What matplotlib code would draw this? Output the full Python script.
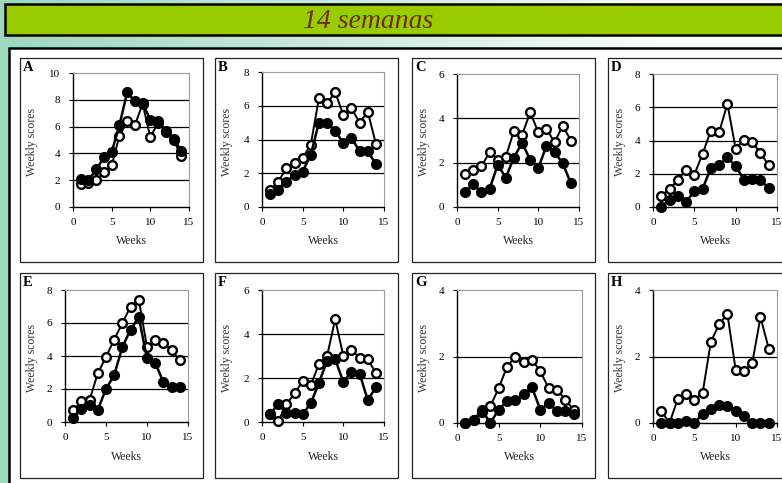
import numpy as np
import matplotlib
matplotlib.use("Agg")
import matplotlib.pyplot as plt
from matplotlib.patches import Rectangle

# ---------------- data ----------------
weeks = list(range(1, 15))
panel_labels = ["A", "B", "C", "D", "E", "F", "G", "H"]
y_max = [10, 8, 6, 8, 8, 6, 4, 4]

a_filled = [2.1, 2.0, 2.8, 3.7, 4.1, 6.1, 8.55, 7.9, 7.75, 6.5, 6.4, 5.7, 5.1, 4.2]
a_open   = [1.7, 1.8, 2.0, 2.6, 3.1, 5.3, 6.4, 6.1, 7.7, 5.2, 6.3, 5.6, 5.0, 3.8]
b_filled = [0.8, 1.0, 1.5, 1.9, 2.1, 3.1, 5.0, 5.0, 4.5, 3.8, 4.1, 3.3, 3.3, 2.55]
b_open   = [1.0, 1.5, 2.3, 2.6, 2.9, 3.7, 6.45, 6.15, 6.8, 5.45, 5.85, 5.0, 5.65, 3.75]
c_filled = [0.67, 1.03, 0.67, 0.8, 1.9, 1.33, 2.23, 2.9, 2.13, 1.75, 2.77, 2.47, 1.97, 1.07]
c_open   = [1.5, 1.67, 1.83, 2.47, 2.13, 2.27, 3.43, 3.25, 4.27, 3.37, 3.52, 2.92, 3.67, 3.0]
d_filled = [0.0, 0.45, 0.65, 0.3, 0.95, 1.1, 2.35, 2.5, 3.0, 2.45, 1.65, 1.7, 1.6, 1.15]
d_open   = [0.65, 1.1, 1.6, 2.25, 1.95, 3.2, 4.6, 4.5, 6.2, 3.5, 4.05, 3.9, 3.25, 2.5]
e_filled = [0.25, 0.8, 1.05, 0.75, 2.0, 2.85, 4.55, 5.6, 6.35, 3.85, 3.6, 2.4, 2.1, 2.1]
e_open   = [0.7, 1.25, 1.35, 2.95, 3.95, 5.0, 6.0, 7.0, 7.4, 4.55, 5.0, 4.8, 4.35, 3.75]
f_filled = [0.38, 0.8, 0.4, 0.4, 0.35, 0.85, 1.78, 2.78, 2.85, 1.82, 2.28, 2.2, 1.0, 1.57]
f_open   = [0.38, 0.05, 0.8, 1.3, 1.85, 1.68, 2.63, 3.0, 4.67, 3.0, 3.27, 2.93, 2.85, 2.23]
g_filled = [0.0, 0.1, 0.38, 0.0, 0.4, 0.66, 0.7, 0.86, 1.07, 0.4, 0.6, 0.35, 0.35, 0.26]
g_open   = [0.0, 0.1, 0.33, 0.5, 1.05, 1.69, 2.0, 1.84, 1.9, 1.56, 1.04, 1.0, 0.7, 0.4]
h_filled = [0.0, 0.0, 0.0, 0.05, 0.0, 0.27, 0.42, 0.55, 0.5, 0.37, 0.2, 0.0, 0.0, 0.0]
h_open   = [0.36, 0.0, 0.73, 0.86, 0.7, 0.9, 2.44, 2.97, 3.28, 1.6, 1.57, 1.8, 3.18, 2.24]

filled_series = [a_filled, b_filled, c_filled, d_filled, e_filled, f_filled, g_filled, h_filled]
open_series = [a_open, b_open, c_open, d_open, e_open, f_open, g_open, h_open]
x_ticks = [0, 5, 10, 15]
title_text = "14 semanas"
x_label = "Weeks"
y_label = "Weekly scores"

# ---------------- layout ----------------
W, H = 782, 483
fig = plt.figure(figsize=(W / 100, H / 100), dpi=100)
serif = ["Liberation Serif", "DejaVu Serif"]

bg = fig.add_axes([0, 0, 1, 1])
bg.set_xlim(0, W)
bg.set_ylim(H, 0)
bg.axis("off")

# background gradient
gx = np.linspace(0, 1, 256)
c0 = np.array([0.62, 0.84, 0.75])
c1 = np.array([0.97, 0.99, 0.98])
t = np.clip(gx / 0.85, 0, 1)[None, :, None]
grad = c0 * (1 - t) + c1 * t
grad = np.repeat(grad, 2, axis=0)
bg.imshow(grad, extent=[0, W, H, 0], aspect="auto", zorder=0)

# banner
bg.add_patch(Rectangle((5, 4), 800, 31, facecolor="#99cc00", edgecolor="black", lw=1.8, zorder=1))
bg.text(368, 21, title_text, ha="center", va="center", fontsize=20, style="italic",
        color="#6e2a0c", family=serif, zorder=2)

# main white panel
bg.add_patch(Rectangle((9, 48), 800, 460, facecolor="white", edgecolor="black", lw=1.8, zorder=1))

box_cols = [20, 215, 412, 608]
box_rows = [(58, 262), (273, 478)]
box_w = 183
axes_px = [
    (73, 189, 73, 207), (262, 384, 72, 207), (457, 579, 74, 207), (653, 777, 74, 207),
    (65, 188, 290, 422), (262, 384, 290, 422), (457, 582, 290, 423), (653, 777, 290, 423),
]

for i in range(8):
    r, c = divmod(i, 4)
    bx = box_cols[c]
    by0, by1 = box_rows[r]
    bg.add_patch(Rectangle((bx, by0), box_w, by1 - by0, facecolor="white",
                           edgecolor="#222222", lw=0.9, zorder=1))
    bg.text(bx + 3, by0 + 3, panel_labels[i], ha="left", va="top", fontsize=10.5,
            fontweight="bold", family=serif, zorder=2)

    l, rr, t0, b0 = axes_px[i]
    ax = fig.add_axes([l / W, 1 - b0 / H, (rr - l) / W, (b0 - t0) / H])
    ax.set_facecolor("white")
    ym = y_max[i]
    ax.set_xlim(0, 15)
    ax.set_ylim(0, ym)
    ax.set_xticks(x_ticks)
    ax.set_yticks(list(range(0, ym + 1, 2)))
    for yv in range(2, ym, 2):
        ax.axhline(yv, color="black", lw=0.9, zorder=1)
    for s in ["top", "right"]:
        ax.spines[s].set_color("#9a9a9a")
        ax.spines[s].set_linewidth(0.8)
    for s in ["left", "bottom"]:
        ax.spines[s].set_color("black")
        ax.spines[s].set_linewidth(1.0)
    ax.tick_params(axis="both", length=3, width=0.8, labelsize=8, pad=3,
                   direction="out", colors="black")
    for lab in ax.get_xticklabels() + ax.get_yticklabels():
        lab.set_family(serif)
    ax.tick_params(axis="y", pad=6)
    ax.tick_params(axis="x", pad=5)

    ax.plot(weeks, open_series[i], color="black", lw=1.4, marker="o", ms=6.3,
            mfc="white", mec="black", mew=1.7, zorder=3, clip_on=False)
    ax.plot(weeks, filled_series[i], color="black", lw=1.8, marker="o", ms=7,
            mfc="black", mec="black", zorder=4, clip_on=False)

    # axis titles
    bg.text((l + rr) / 2, by1 - 21, x_label, ha="center", va="center",
            fontsize=8.5, family=serif, color="#222222", zorder=2)
    bg.text(bx + 12, (t0 + b0) / 2 + 2, y_label, ha="center", va="center", rotation=90,
            fontsize=8.5, family=serif, color="#333333", zorder=2)

fig.savefig("out.png", dpi=100)
